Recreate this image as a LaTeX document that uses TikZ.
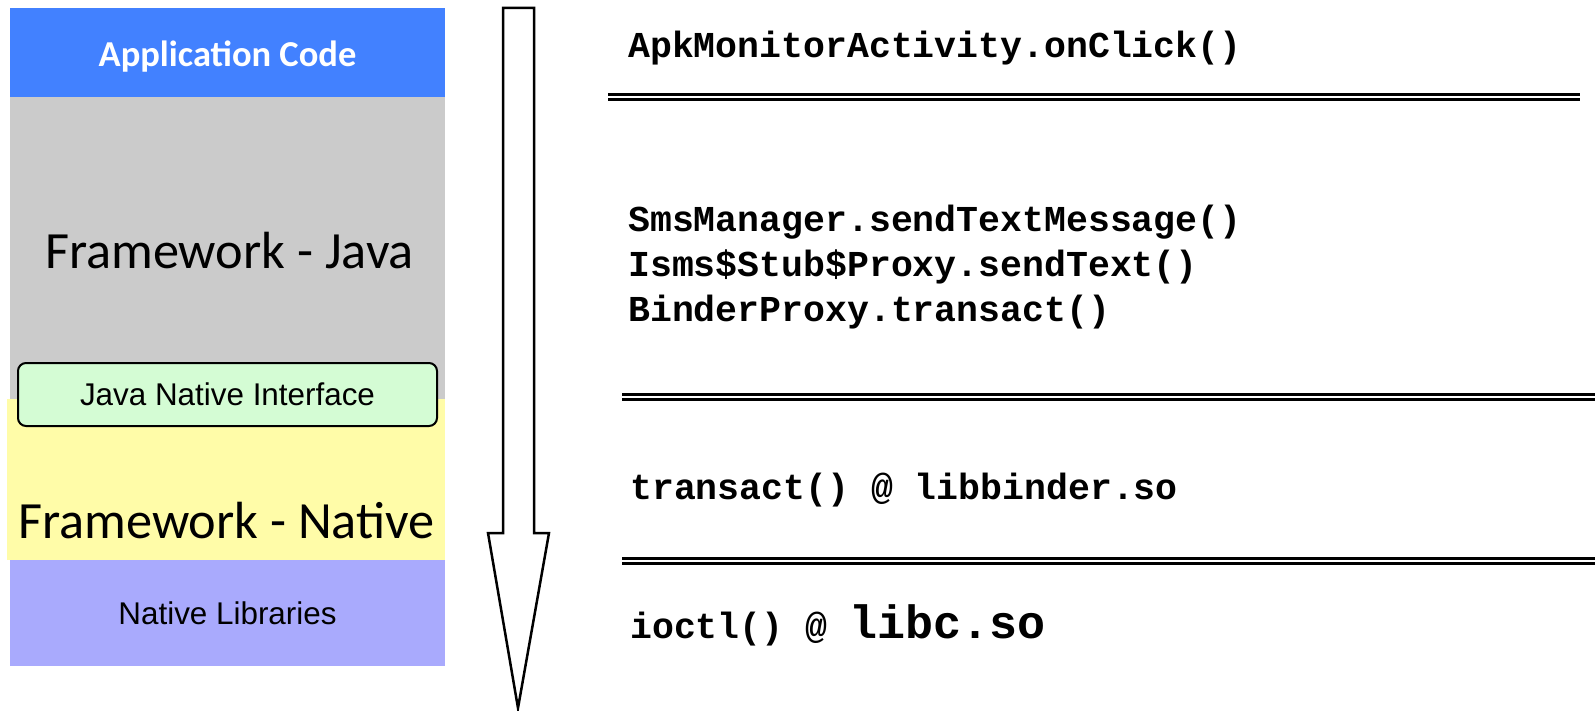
\documentclass[tikz,border=0pt]{standalone}
\usepackage{fontspec}
\setmonofont{Liberation Mono}
\newfontfamily\calibri{Carlito}
\newfontfamily\arial{Liberation Sans}
\usetikzlibrary{positioning}

\definecolor{appblue}{HTML}{4281FF}
\definecolor{javagray}{HTML}{CBCBCB}
\definecolor{jnigreen}{HTML}{D4FCD4}
\definecolor{nativeyellow}{HTML}{FFFCA8}
\definecolor{libpurple}{HTML}{A9AAFD}

\begin{document}
\begin{tikzpicture}[x=1pt, y=-1pt,
		layer/.style={inner sep=0pt, minimum width=435pt},
		code/.style={anchor=base west, inner sep=0pt, font=\fontsize{36.5}{45}\selectfont\ttfamily\bfseries},
		sep/.style={line width=2.5pt, double, double distance=2.5pt}]
		\useasboundingbox (0,0) rectangle (1595,711);
		
		% Các tầng bên trái
		\node[layer, fill=appblue, minimum height=89pt] (app) at (227.5,52.5) {};
		\node[layer, fill=javagray, minimum height=302pt] (java) at (227.5,248) {};
		\node[layer, fill=nativeyellow, minimum width=438pt, minimum height=161pt] (native) at (226,479.5) {};
		\node[layer, fill=libpurple, minimum height=106pt, font=\fontsize{31.4}{36}\selectfont\arial] (libs) at (227.5,613) {Native Libraries};
		\node[text=white, inner sep=0pt, font=\fontsize{36.5}{40}\selectfont\calibri\bfseries] (apptxt) at (227.5,57) {Application Code};
		\node[font=\fontsize{52.3}{56}\selectfont\calibri, inner sep=0pt] (javatxt) at (229.5,251) {Framework - Java};
		\node[font=\fontsize{52.3}{56}\selectfont\calibri, inner sep=0pt] (nativetxt) at (226.5,521) {Framework - Native};
		\node[draw, line width=2pt, rounded corners=8pt, fill=jnigreen, minimum width=419pt, minimum height=63pt, inner sep=0pt, font=\fontsize{31.4}{36}\selectfont\arial] (jni) at (227.5,394.5) {Java Native Interface};
		
		% Mũi tên lớn
		\draw[line width=2.5pt, fill=white, line join=miter] (503,8) -- (534,8) -- (534,533) -- (549,533) -- (518,708) -- (488,533) -- (503,533) -- cycle;
		
		% Các lời gọi bên phải
		\node[code] (click) at (628,58) {ApkMonitorActivity.onClick()};
		\node[code, align=left] (java calls) at (628,321) {SmsManager.sendTextMessage()\\Isms\$Stub\$Proxy.sendText()\\BinderProxy.transact()};
		\node[code] (binder) at (630,499) {transact() @ libbinder.so};
		\node[code] (ioctl) at (630,638) {ioctl() @ {\fontsize{46.7}{50}\selectfont libc.so}};
		
		\coordinate (s1a) at (608,97);  \coordinate (s1b) at (1580,97);
		\coordinate (s2a) at (622,397); \coordinate (s2b) at (1595,397);
		\coordinate (s3a) at (622,561); \coordinate (s3b) at (1595,561);
		\draw[sep] (s1a) -- (s1b);
		\draw[sep] (s2a) -- (s2b);
		\draw[sep] (s3a) -- (s3b);
\end{tikzpicture}
\end{document}
